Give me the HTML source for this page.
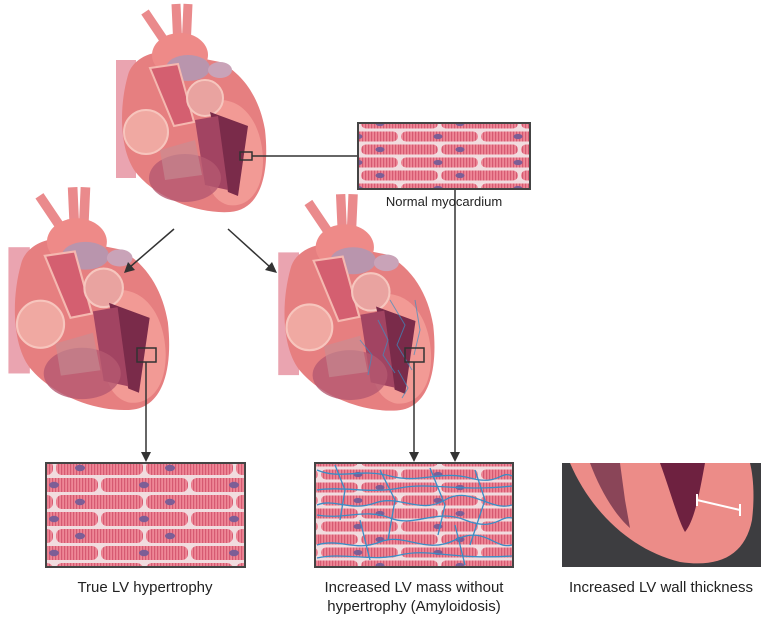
<!DOCTYPE html>
<html><head><meta charset="utf-8"><style>
html,body{margin:0;padding:0;background:#fff;}
svg{display:block;}
text{font-family:"Liberation Sans",sans-serif;fill:#222;}
</style></head><body>
<svg width="783" height="623" viewBox="0 0 783 623" xmlns="http://www.w3.org/2000/svg">
<defs>
<pattern id="st" width="3" height="10" patternUnits="userSpaceOnUse">
<rect width="3" height="10" fill="#ee8796"/><rect width="1.2" height="10" fill="#d65a72"/>
</pattern>
<pattern id="myo" width="80" height="26" patternUnits="userSpaceOnUse">
<rect width="80" height="26" fill="#f1dcdf"/>
<rect x="1" y="1.5" width="77" height="10" rx="5" fill="url(#st)"/>
<ellipse cx="38" cy="6.5" rx="4.5" ry="2.6" fill="#7c5e96"/>
<rect x="-39" y="14.5" width="77" height="10" rx="5" fill="url(#st)"/>
<rect x="41" y="14.5" width="77" height="10" rx="5" fill="url(#st)"/>
<ellipse cx="60" cy="19.5" rx="4.5" ry="2.6" fill="#7c5e96"/>
</pattern>
<pattern id="myo2" width="90" height="34" patternUnits="userSpaceOnUse" patternTransform="translate(10,0)">
<rect width="90" height="34" fill="#f1dcdf"/>
<rect x="1" y="2" width="87" height="14" rx="6" fill="url(#st)"/>
<ellipse cx="44" cy="9" rx="5" ry="3.2" fill="#7c5e96"/>
<rect x="-44" y="19" width="87" height="14" rx="6" fill="url(#st)"/>
<rect x="46" y="19" width="87" height="14" rx="6" fill="url(#st)"/>
<ellipse cx="70" cy="26" rx="5" ry="3.2" fill="#7c5e96"/>
</pattern>
<g id="heart">
<path d="M35,12 L62,52 M66,4 L68,48 M78,4 L76,48" stroke="#ea8a8c" stroke-width="9" fill="none"/>
<rect x="6" y="60" width="20" height="118" fill="#eaa4b0"/>
<path d="M18,75 C22,60 40,50 60,52 L110,62 C135,75 150,100 155,130 C160,175 150,210 120,212 C90,214 50,200 28,175 C10,155 8,110 18,75 Z" fill="#e67f80"/>
<ellipse cx="70" cy="55" rx="28" ry="22" fill="#ee8a88"/>
<ellipse cx="78" cy="68" rx="22" ry="13" fill="#b995ad"/>
<ellipse cx="110" cy="70" rx="12" ry="8" fill="#c9a3b8"/>
<path d="M110,100 C135,100 152,125 153,160 C153,195 135,208 118,205 C100,200 95,180 92,150 Z" fill="#f29a95"/>
<path d="M40,68 L68,64 L84,122 L64,126 Z" fill="#d45f70" stroke="#f5b8b0" stroke-width="2"/>
<circle cx="95" cy="98" r="18" fill="#e9a3a0" stroke="#f6c6be" stroke-width="2"/>
<path d="M100,112 L138,126 L128,196 L118,192 Z" fill="#7a2b4a"/>
<path d="M85,120 L108,116 L118,190 L95,185 Z" fill="#a24462"/>
<circle cx="36" cy="132" r="22" fill="#f0a9a2" stroke="#f7c5bd" stroke-width="2"/>
<ellipse cx="75" cy="178" rx="36" ry="24" fill="#b55970" opacity="0.8"/>
<path d="M50,150 L85,140 L92,175 L55,180 Z" fill="#c78d94" opacity="0.6"/>
</g>
</defs>

<use href="#heart" transform="translate(110,0)"/>
<use href="#heart" transform="translate(2,183) scale(1.07)"/>
<use href="#heart" transform="translate(272,190) scale(1.04)"/>
<g stroke="#3b8fc4" stroke-width="1" fill="none" opacity="0.7">
<path d="M378,320 l10,20 l-5,15 l12,18 M390,300 l15,25 l-8,20 l15,25 M398,370 l10,18 l-6,10 M360,340 l12,15 l-4,20 M415,300 l5,30 l-6,25"/>
</g>

<g fill="none" stroke="#333" stroke-width="1.5">
<rect x="240" y="152" width="12" height="8"/>
<rect x="137" y="348" width="19" height="14"/>
<rect x="405" y="348" width="19" height="14"/>
</g>

<g stroke="#333" stroke-width="1.5" fill="#333">
<line x1="252" y1="156" x2="358" y2="156"/>
<line x1="455" y1="189" x2="455" y2="454"/>
<path d="M450,452 L460,452 L455,462 Z" stroke="none"/>
<line x1="146" y1="362" x2="146" y2="454"/>
<path d="M141,452 L151,452 L146,462 Z" stroke="none"/>
<line x1="414" y1="362" x2="414" y2="454"/>
<path d="M409,452 L419,452 L414,462 Z" stroke="none"/>
<line x1="174" y1="229" x2="130" y2="267"/>
<path d="M124,273 L128,262 L135,270 Z" stroke="none"/>
<line x1="228" y1="229" x2="270" y2="267"/>
<path d="M277,273 L265,270 L272,262 Z" stroke="none"/>
</g>

<rect x="358" y="123" width="172" height="66" fill="url(#myo)" stroke="#444" stroke-width="2"/>
<text x="444" y="206" font-size="13" text-anchor="middle">Normal myocardium</text>

<rect x="46" y="463" width="199" height="104" fill="url(#myo2)" stroke="#444" stroke-width="2"/>
<text x="145" y="592" font-size="15" text-anchor="middle">True LV hypertrophy</text>

<rect x="315" y="463" width="198" height="104" fill="url(#myo)" stroke="#444" stroke-width="2"/>
<g stroke="#3a8ec6" stroke-width="1.3" fill="none">
<path d="M317,470 C340,480 360,468 390,476 S440,470 470,478 S500,470 512,476"/>
<path d="M317,505 C335,498 350,512 375,503 S420,515 445,500 S490,512 512,505"/>
<path d="M317,515 C345,520 365,508 390,518 S435,508 465,520 S500,515 512,518"/>
<path d="M317,545 C340,538 355,552 380,542 S425,555 455,540 S495,550 512,545"/>
<path d="M317,558 C345,552 370,562 400,555 S450,560 512,556"/>
<path d="M335,465 L345,490 L340,520 M380,470 L395,500 L388,540 M430,468 L445,505 L438,535 M475,470 L485,500 L470,545 M360,520 L370,560 M455,525 L465,565"/>
<path d="M317,490 C345,486 370,494 400,488 S460,492 512,486"/>
</g>
<text x="414" y="592" font-size="15" text-anchor="middle">Increased LV mass without</text>
<text x="414" y="611" font-size="15" text-anchor="middle">hypertrophy (Amyloidosis)</text>

<rect x="562" y="463" width="199" height="104" fill="#3d3d40"/>
<path d="M570,463 C590,510 630,550 680,562 C720,568 745,555 752,520 C755,495 753,475 750,463 Z" fill="#ec8c88"/>
<path d="M590,463 C600,490 615,515 630,528 L625,500 L620,463 Z" fill="#8a4558"/>
<path d="M660,463 L705,463 C700,490 695,520 685,532 C678,520 670,490 660,463 Z" fill="#6e2140"/>
<g stroke="#fff" stroke-width="2">
<line x1="697" y1="500" x2="740" y2="510"/>
<line x1="697" y1="494" x2="697" y2="506"/>
<line x1="740" y1="504" x2="740" y2="516"/>
</g>
<text x="661" y="592" font-size="15" text-anchor="middle">Increased LV wall thickness</text>
</svg>
</body></html>
